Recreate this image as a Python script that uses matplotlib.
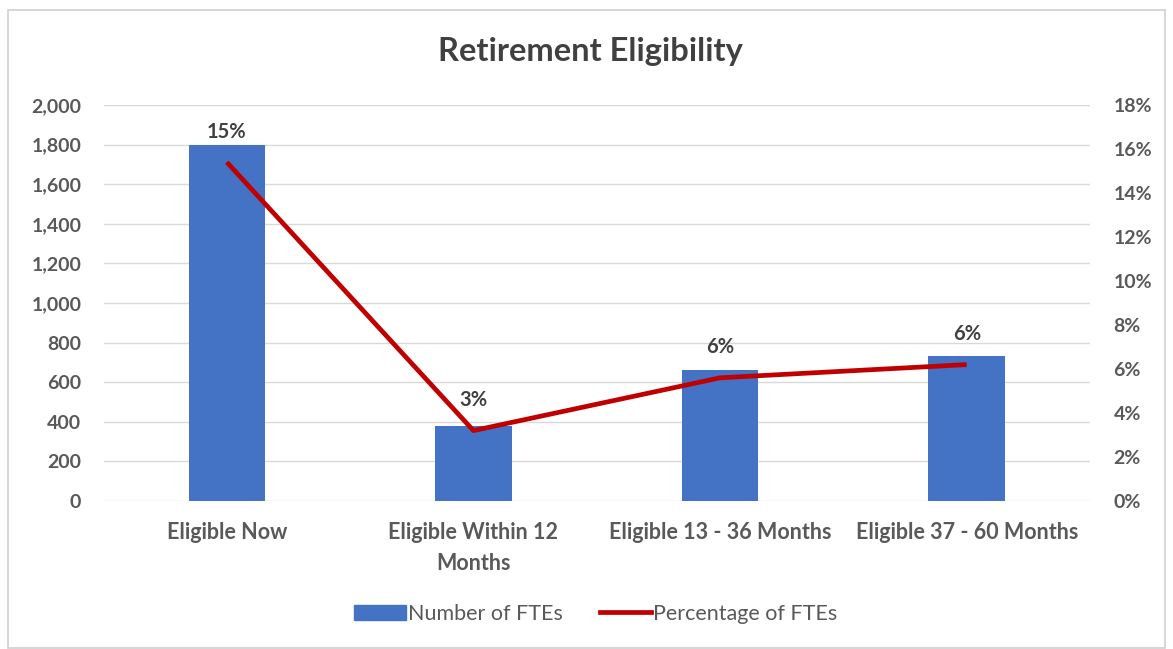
import matplotlib.pyplot as plt
from matplotlib.patches import Rectangle
from matplotlib.lines import Line2D
from matplotlib.ticker import FuncFormatter, MultipleLocator

categories = ["Eligible Now", "Eligible Within 12\nMonths", "Eligible 13 - 36 Months", "Eligible 37 - 60 Months"]
fte_counts = [1800, 380, 662, 732]
fte_pct = [15.4, 3.2, 5.6, 6.2]
pct_labels = ["15%", "3%", "6%", "6%"]

plt.rcParams['font.family'] = ['Lato', 'DejaVu Sans']

fig = plt.figure(figsize=(11.73, 6.49), dpi=100)
fig.patches.append(Rectangle((8/1173, 1/649), 1157/1173, 638/649, transform=fig.transFigure,
                             fill=False, edgecolor='#D0D0D0', linewidth=1.2))

ax = fig.add_axes([103.5/1173, 1-501/649, (1090-103.5)/1173, (501-105)/649])
ax2 = ax.twinx()

x = list(range(len(categories)))
ax.bar(x, fte_counts, width=0.31, color='#4472C4', zorder=2)
ax.set_xlim(-0.5, len(categories)-0.5)
ax.set_ylim(0, 2000)
ax.yaxis.set_major_locator(MultipleLocator(200))
ax.yaxis.set_major_formatter(FuncFormatter(lambda v, p: f"{int(v):,}"))
ax.grid(axis='y', color='#D9D9D9', linewidth=1, zorder=0)
ax.set_axisbelow(True)

ax2.plot(x, fte_pct, color='#C00000', linewidth=3.4, zorder=3, solid_capstyle='butt')
ax2.set_ylim(0, 18)
ax2.yaxis.set_major_locator(MultipleLocator(2))
ax2.yaxis.set_major_formatter(FuncFormatter(lambda v, p: f"{int(round(v))}%"))

for xi, yi, lab in zip(x, fte_pct, pct_labels):
    ax2.annotate(lab, (xi, yi), xytext=(0, 22), textcoords='offset points',
                 ha='center', va='center', fontsize=14.5, fontweight='bold', color='#404040')

for a in (ax, ax2):
    for s in a.spines.values():
        s.set_visible(False)
    a.tick_params(axis='both', length=0, labelsize=14, labelcolor='#595959')
    for lbl in a.get_yticklabels():
        lbl.set_fontweight('bold')

ax.tick_params(axis='y', pad=16)
ax2.tick_params(axis='y', pad=17)
ax.set_xticks(x)
ax.set_xticklabels(categories, fontsize=15.5, fontweight='bold', color='#595959', linespacing=1.6)
ax.tick_params(axis='x', pad=15)

fig.text(590/1173, 1-52/649, "Retirement Eligibility", ha='center', va='center',
         fontsize=23.5, fontweight='bold', color='#404040')

handles = [Rectangle((0, 0), 1, 1, color='#4472C4'),
           Line2D([0], [0], color='#C00000', linewidth=3.4)]
fig.legend(handles, ["Number of FTEs", "Percentage of FTEs"], loc='center',
           bbox_to_anchor=(596/1173, 1-614/649), ncol=2, frameon=False,
           fontsize=15.5, labelcolor='#595959', handlelength=2.4, handletextpad=0.1,
           columnspacing=1.7)

fig.savefig("out.png", dpi=100)
